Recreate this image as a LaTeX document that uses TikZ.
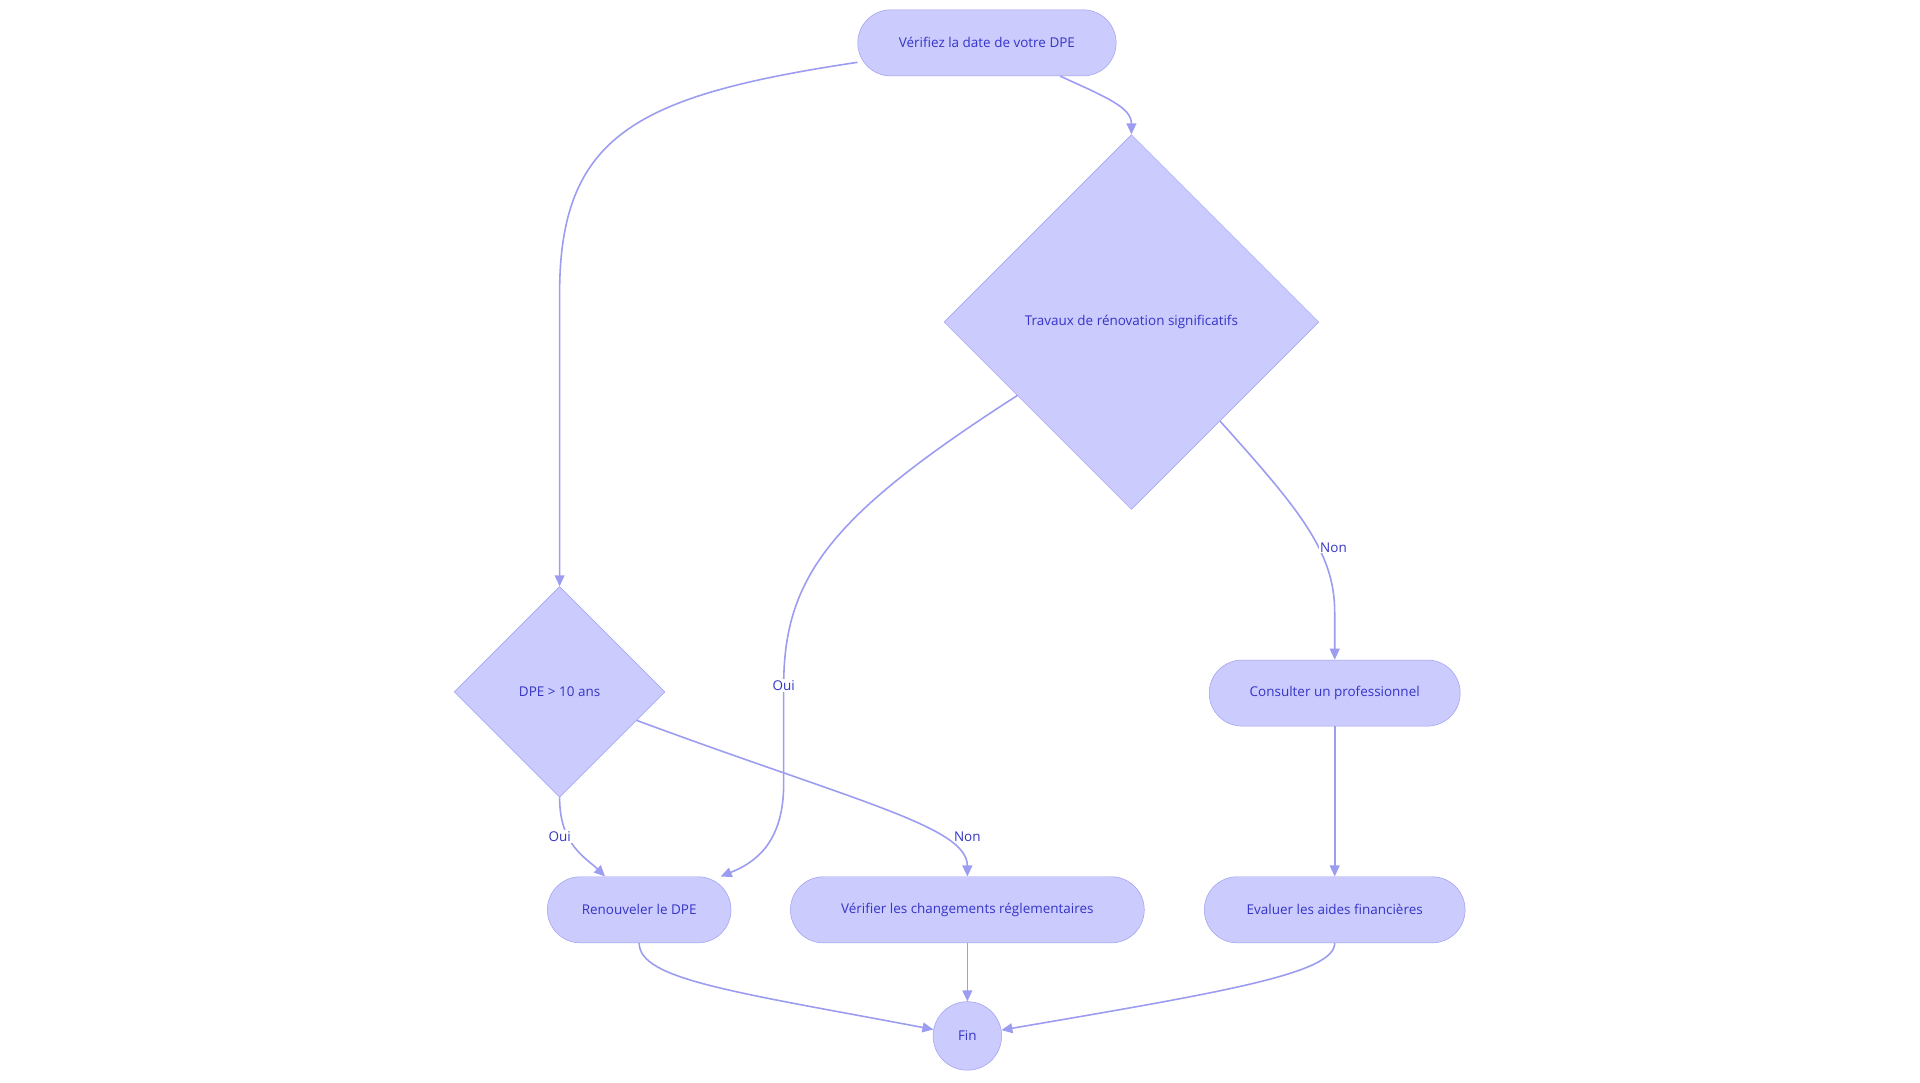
\documentclass[tikz,border=0pt]{standalone}
\usepackage{fontspec}
\setmainfont{Open Sans}
\usetikzlibrary{shapes.geometric,arrows.meta}
\definecolor{boxfill}{HTML}{CBCBFE}
\definecolor{boxline}{HTML}{9C9CF0}
\definecolor{boxtext}{HTML}{3434C8}
\tikzset{
	stepbox/.style={draw=boxline,fill=boxfill,text=boxtext,rounded corners=27pt,minimum height=54pt,inner sep=0pt,font=\fontsize{11}{13}\selectfont},
	choice/.style={diamond,draw=boxline,fill=boxfill,text=boxtext,inner sep=0pt,font=\fontsize{11}{13}\selectfont},
	flow/.style={draw=boxline,line width=1.3pt,-{Triangle[length=9pt,width=8pt]}},
	tag/.style={fill=white,text=boxtext,inner sep=1pt,font=\fontsize{11}{13}\selectfont}
}
\begin{document}
\begin{tikzpicture}[x=1pt,y=-1pt]
	\useasboundingbox (0,0) rectangle (1568,884);
	% Boxes %
	\node [stepbox,minimum width=211pt] (start) at (806,35) {Vérifiez la date de votre DPE};
	\node [choice,minimum width=306pt,minimum height=306pt] (works) at (924,263) {Travaux de rénovation significatifs};
	\node [choice,minimum width=172pt,minimum height=172pt] (age) at (457,565) {DPE > 10 ans};
	\node [stepbox,minimum width=205pt] (consult) at (1090,566) {Consulter un professionnel};
	\node [stepbox,minimum width=150pt] (renew) at (522,743) {Renouveler le DPE};
	\node [stepbox,minimum width=289pt] (rules) at (790,743) {Vérifier les changements réglementaires};
	\node [stepbox,minimum width=213pt] (aid) at (1090,743) {Evaluer les aides financières};
	\node [circle,draw=boxline,fill=boxfill,text=boxtext,minimum size=56pt,inner sep=0pt,font=\fontsize{11}{13}\selectfont] (end) at (790,846) {Fin};
	% Links %
	\draw [flow] (start) .. controls (520,78) and (457,110) .. (457,240) -- (age);
	\draw [flow] (start) .. controls (905,80) and (924,88) .. (works);
	\draw [flow] (works) .. controls (680,420) and (640,470) .. (640,560) node [tag] {Oui} -- (640,640) .. controls (640,690) and (615,705) .. (renew);
	\draw [flow] (works) .. controls (1060,415) and (1090,450) .. (1090,500) -- (consult);
	\path (1089,447) node [tag] {Non};
	\draw [flow] (age) .. controls (457,690) and (478,700) .. (renew);
	\path (457,683) node [tag] {Oui};
	\draw [flow] (age) .. controls (700,655) and (790,675) .. (rules);
	\path (790,683) node [tag] {Non};
	\draw [flow] (consult) -- (aid);
	\draw [flow] (renew) .. controls (522,800) and (600,810) .. (end);
	\draw [flow] (rules) -- (end);
	\draw [flow] (aid) .. controls (1090,795) and (1000,810) .. (end);
\end{tikzpicture}
\end{document}
